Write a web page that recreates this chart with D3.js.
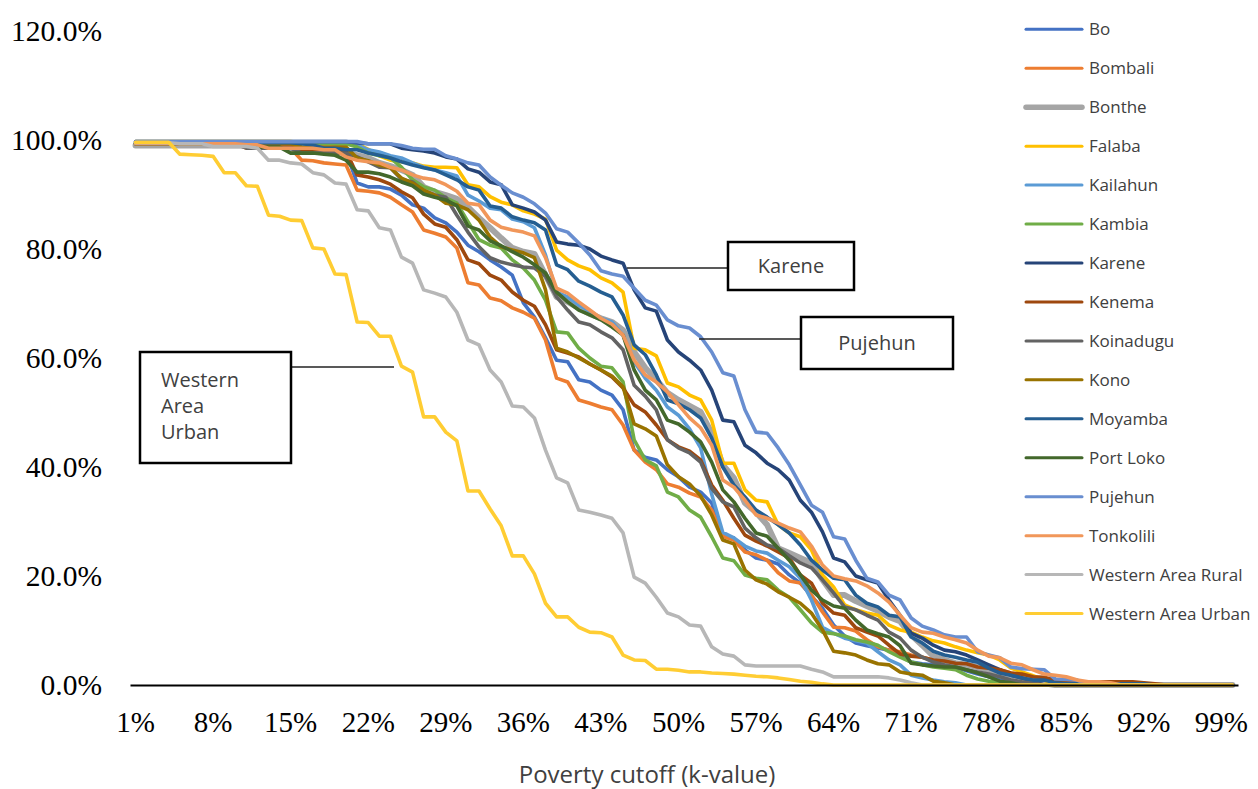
<!DOCTYPE html>
<html><head><meta charset="utf-8">
<script src="https://cdn.jsdelivr.net/npm/d3@7"></script>
<style>body{margin:0;background:#fff}svg{display:block}</style>
</head><body>
<svg id="chart" width="1258" height="789"></svg>
<script>
const kValues = d3.range(1, 101);
const xTickValues = [1, 8, 15, 22, 29, 36, 43, 50, 57, 64, 71, 78, 85, 92, 99];
const yTickValues = [0, 0.2, 0.4, 0.6, 0.8, 1.0, 1.2];

const seriesNames = ["Bo","Bombali","Bonthe","Falaba","Kailahun","Kambia","Karene","Kenema","Koinadugu","Kono","Moyamba","Port Loko","Pujehun","Tonkolili","Western Area Rural","Western Area Urban"];
const seriesColors = ["#4472C4","#ED7D31","#A5A5A5","#FFC000","#5B9BD5","#70AD47","#264478","#9E480E","#636363","#997300","#255E91","#43682B","#698ED0","#F1975A","#B7B7B7","#FFCD33"];

const bo = [99.3,99.3,99.3,99.3,99.3,99.3,99.3,99.3,99.3,99.3,
98.7,98.7,98.7,98.7,98.7,98.2,98.2,98.2,98.0,97.8,
92.1,91.4,91.4,91.0,89.9,88.1,87.5,85.7,84.8,83.1,
80.7,79.5,78.0,76.7,75.2,70.1,67.5,63.7,59.6,59.3,
56.0,55.6,54.1,53.2,50.5,43.1,41.8,41.3,39.5,38.2,
36.3,35.4,33.4,27.2,27.0,24.8,23.3,22.9,22.2,20.2,
18.7,16.3,14.1,11.0,9.0,7.7,7.2,6.8,6.4,5.3,
4.2,3.9,3.7,3.5,3.3,2.6,2.0,1.5,0.9,0.6,
0.4,0,0,0,0,0,0,0,0,0,
0,0,0,0,0,0,0,0,0,0];
const bombali = [99.3,99.3,99.3,99.3,99.3,99.3,99.3,99.3,99.3,99.3,
98.5,98.5,98.5,98.5,98.5,96.3,96.2,95.8,95.6,95.4,
90.8,90.6,90.3,89.5,88.1,86.8,83.5,82.9,82.2,80.2,
73.8,73.4,71.0,70.5,69.2,68.4,67.3,63.3,56.3,55.6,
52.3,51.7,51.0,50.5,47.7,43.1,40.9,39.5,36.9,36.3,
35.2,34.5,32.1,27.3,26.6,24.4,23.9,22.9,20.6,19.1,
18.7,16.5,13.4,10.6,10.5,9.9,8.3,7.0,6.4,6.1,
5.5,5.1,4.6,4.4,4.0,3.7,3.3,2.9,2.8,2.2,
1.8,1.5,1.1,0.9,0.6,0.4,0.2,0,0,0,
0,0,0,0,0,0,0,0,0,0];
const bonthe = [99.0,99.0,99.0,99.0,99.0,99.0,99.0,99.0,99.0,99.0,
99.0,99.0,98.8,98.8,98.5,98.2,98.2,98.0,97.8,97.6,
97.2,96.7,95.8,95.2,94.5,93.6,91.4,90.5,89.9,89.2,
87.7,85.7,83.9,82.0,80.2,79.5,79.1,75.2,71.2,70.3,
69.2,68.1,67.3,66.6,65.1,61.1,58.2,56.0,53.6,52.3,
51.2,50.1,46.2,40.4,38.0,33.4,31.7,29.4,25.1,24.2,
23.3,22.4,19.3,16.5,16.5,15.4,14.5,13.6,12.5,11.7,
9.2,7.3,5.3,4.6,4.0,3.7,3.3,2.8,2.2,1.7,
1.1,0.6,0.3,0,0,0,0,0,0,0,
0,0,0,0,0,0,0,0,0,0];
const falaba = [99.7,99.7,99.7,99.7,99.7,99.7,99.7,99.7,99.7,99.7,
99.7,99.7,99.7,99.7,99.7,99.5,99.5,99.5,99.5,99.5,
99.3,98.3,97.1,96.3,96.0,95.8,95.2,95.0,95.0,94.9,
91.8,91.4,89.6,88.6,88.1,87.0,86.4,85.5,79.8,78.0,
76.9,76.2,74.7,73.8,72.1,61.8,61.5,60.4,55.4,54.7,
53.2,52.3,48.6,40.7,40.7,35.8,33.9,33.6,29.4,27.9,
27.2,24.8,20.2,18.0,14.7,13.8,13.2,12.8,11.0,10.1,
9.7,8.8,8.1,7.7,7.0,6.4,5.9,5.5,4.6,3.1,
2.4,1.7,0.9,0,0,0,0,0,0,0,
0,0,0,0,0,0,0,0,0,0];
const kailahun = [99.5,99.5,99.5,99.5,99.5,99.5,99.5,99.5,99.5,99.5,
99.5,99.5,99.5,99.5,99.5,99.5,99.5,99.5,99.3,99.3,
99.1,98.2,97.8,97.1,96.7,95.8,95.0,94.5,94.0,93.4,
89.9,88.8,87.5,87.2,85.5,85.0,83.9,78.9,72.1,71.2,
69.7,68.6,67.3,66.6,64.2,59.3,56.3,54.1,51.0,49.5,
47.0,43.5,35.0,28.0,27.0,25.5,24.6,24.2,22.9,21.7,
19.6,15.6,10.6,9.5,8.6,8.1,7.7,6.1,4.6,3.7,
1.8,1.3,0.9,0.6,0.4,0,0,0,0,0,
0,0,0,0,0,0,0,0,0,0,
0,0,0,0,0,0,0,0,0,0];
const kambia = [99.5,99.5,99.5,99.5,99.5,99.5,99.5,99.5,99.5,99.5,
99.5,99.5,99.5,99.5,99.5,99.5,99.3,99.3,99.3,99.3,
98.7,97.6,97.1,96.7,95.0,92.7,91.4,90.8,89.4,88.4,
85.0,81.7,80.7,80.2,78.0,76.5,74.3,70.6,64.8,64.6,
61.8,60.0,58.5,58.2,55.6,45.0,41.3,40.2,35.4,34.5,
32.1,30.8,27.2,23.3,22.8,20.2,19.6,19.3,17.4,16.1,
13.8,11.4,9.7,9.4,9.0,8.3,7.9,7.3,6.1,5.1,
4.2,3.7,3.3,3.1,2.8,1.8,1.1,0.7,0.4,0,
0,0,0,0,0,0,0,0,0,0,
0,0,0,0,0,0,0,0,0,0];
const karene = [99.7,99.7,99.7,99.7,99.7,99.7,99.7,99.7,99.7,99.7,
99.7,99.7,99.7,99.7,99.7,99.7,99.7,99.7,99.7,99.7,
99.5,99.3,99.3,99.3,98.5,98.2,98.0,97.6,96.9,96.5,
94.7,94.1,92.3,91.8,88.1,87.5,86.8,85.3,81.3,80.9,
80.7,80.0,78.7,78.0,77.4,72.5,69.2,68.6,63.3,61.1,
59.6,57.8,54.1,48.6,48.3,44.0,42.6,40.7,39.5,37.6,
33.9,31.7,28.1,23.3,22.6,20.0,19.3,18.7,15.6,12.8,
9.5,8.6,7.3,6.4,6.1,5.5,4.6,3.7,2.8,1.8,
1.3,0.6,0,0,0,0,0,0,0,0,
0,0,0,0,0,0,0,0,0,0];
const kenema = [99.3,99.3,99.3,99.3,99.3,99.3,99.3,99.3,99.3,99.3,
98.7,98.7,98.7,98.7,98.7,98.2,98.2,98.2,98.2,98.0,
93.6,93.2,92.7,91.9,90.5,89.4,86.4,84.6,84.0,81.7,
78.0,77.3,75.2,74.3,72.1,70.6,69.5,66.1,61.5,60.9,
60.2,58.9,57.8,56.5,54.5,51.4,50.1,47.7,45.0,43.7,
42.9,41.3,36.7,33.9,30.6,27.5,26.4,25.5,24.4,23.3,
20.2,18.7,15.0,13.2,12.8,10.5,9.7,9.0,7.3,5.7,
5.3,5.1,4.6,4.4,4.0,3.9,3.3,3.1,2.8,2.2,
2.0,1.5,1.4,0.9,0.6,0.6,0.6,0.6,0.6,0.6,
0.6,0.4,0.2,0,0,0,0,0,0,0];
const koinadugu = [99.3,99.3,99.3,99.3,99.3,99.3,99.3,99.3,99.3,99.3,
98.5,98.5,98.5,98.5,98.5,97.6,97.6,97.6,97.6,97.6,
96.9,96.0,95.0,94.9,92.8,92.3,90.6,89.9,89.5,86.2,
83.1,80.4,78.4,77.6,77.1,76.7,76.5,75.0,71.2,68.8,
66.6,66.1,64.8,63.7,61.5,55.0,53.0,50.5,45.0,43.5,
42.6,40.9,36.1,33.6,32.7,28.8,27.0,25.7,25.1,23.7,
22.4,21.5,19.3,16.9,14.3,13.8,12.8,11.9,9.7,8.6,
6.4,5.1,4.2,3.7,3.3,2.8,2.4,2.0,1.5,0.9,
0.6,0.4,0,0,0,0,0,0,0,0,
0,0,0,0,0,0,0,0,0,0];
const kono = [99.3,99.3,99.3,99.3,99.3,99.3,99.3,99.3,99.3,99.3,
99.3,99.3,99.3,99.3,99.3,98.7,98.7,98.7,98.7,98.7,
96.7,96.2,95.4,94.9,93.0,92.1,90.8,89.9,88.4,88.1,
87.2,85.3,82.2,80.4,79.8,79.3,78.4,72.5,61.8,61.1,
60.0,58.9,57.8,56.7,54.7,47.9,47.0,45.7,40.4,38.2,
36.9,34.7,31.2,26.6,25.9,21.1,19.3,18.5,17.1,16.1,
15.0,13.2,10.1,6.2,5.9,5.5,4.6,3.9,3.7,2.4,
2.0,1.8,0.7,0.4,0,0,0,0,0,0,
0,0,0,0,0,0,0,0,0,0,
0,0,0,0,0,0,0,0,0,0];
const moyamba = [99.5,99.5,99.5,99.5,99.5,99.5,99.5,99.5,99.5,99.5,
99.5,99.5,99.5,99.5,99.5,99.3,99.1,98.5,98.5,98.2,
98.2,97.6,97.2,96.7,96.0,95.4,94.9,94.5,93.6,92.7,
91.4,90.8,87.9,87.5,85.9,85.3,84.8,83.5,77.1,76.2,
74.1,73.2,72.1,71.2,67.9,62.4,60.6,56.9,52.3,51.6,
50.5,49.0,45.3,40.0,36.7,34.5,32.1,30.8,29.4,27.9,
25.7,22.9,21.1,19.6,19.3,16.5,15.0,14.3,12.8,12.5,
8.8,7.7,6.2,5.5,5.1,4.6,4.2,3.1,2.2,1.8,
1.3,0.9,0.9,0.4,0.2,0.2,0.2,0.2,0.2,0.2,
0.2,0.2,0,0,0,0,0,0,0,0];
const portLoko = [99.3,99.3,99.3,99.3,99.3,99.3,99.3,99.3,99.3,99.3,
98.9,98.7,98.7,98.7,97.6,97.6,97.6,97.4,97.2,96.3,
94.1,94.1,93.8,93.2,92.3,91.6,90.1,89.5,89.0,87.9,
84.2,83.5,81.5,80.6,79.5,78.5,77.1,75.6,72.1,70.3,
68.8,67.9,67.0,65.7,64.2,57.8,54.1,52.3,48.6,47.9,
46.4,44.6,40.9,35.8,33.6,30.6,27.9,27.3,25.1,22.9,
20.2,17.4,15.6,14.5,14.1,11.9,10.1,9.4,8.8,7.2,
4.0,3.7,3.5,3.3,3.3,2.8,2.2,1.5,0.7,0.4,
0,0,0,0,0,0,0,0,0,0,
0,0,0,0,0,0,0,0,0,0];
const pujehun = [99.7,99.7,99.7,99.7,99.7,99.7,99.7,99.7,99.7,99.7,
99.7,99.7,99.7,99.7,99.7,99.7,99.7,99.7,99.7,99.7,
99.7,99.3,99.3,99.3,99.0,98.5,98.3,98.3,97.1,96.5,
95.8,95.4,93.2,91.7,90.3,89.5,88.3,86.6,83.7,83.1,
81.1,78.9,76.0,75.4,75.0,72.8,70.6,69.7,67.0,65.9,
65.5,63.9,61.1,57.3,56.7,50.5,46.4,46.2,43.5,40.4,
36.7,33.0,31.7,27.2,26.8,22.9,19.6,18.9,16.5,15.6,
12.3,10.8,10.1,9.2,8.8,8.8,6.1,5.5,5.0,3.3,
3.0,2.9,2.8,1.1,1.0,0.9,0,0,0,0,
0,0,0,0,0,0,0,0,0,0];
const tonkolili = [99.3,99.3,99.3,99.3,99.3,99.3,99.3,99.3,99.3,99.3,
99.1,99.1,98.5,98.5,98.5,98.5,98.5,98.2,98.2,96.9,
96.3,96.0,95.8,95.0,94.5,93.6,93.0,92.7,91.8,90.6,
88.4,88.1,85.3,84.0,83.5,83.1,82.4,78.4,72.8,71.9,
70.3,68.8,67.3,66.2,64.2,59.6,56.9,55.6,53.8,51.4,
49.0,47.2,44.0,37.6,36.3,33.9,31.2,30.6,29.7,28.8,
28.1,25.5,22.0,20.0,19.5,19.1,18.2,16.9,15.2,12.8,
10.5,9.7,9.5,8.8,8.3,7.7,6.4,5.3,5.0,4.0,
3.7,2.8,2.0,1.8,1.5,0.9,0.6,0.6,0.4,0,
0,0,0,0,0,0,0,0,0,0];
const westernRural = [99.5,99.5,99.5,99.5,99.3,99.3,99.3,98.8,98.8,98.8,
98.8,98.5,96.3,96.3,95.8,95.6,94.0,93.6,92.1,91.9,
87.2,87.0,83.9,83.5,78.5,77.4,72.5,71.9,71.2,68.4,
63.3,62.4,57.8,55.6,51.2,51.0,49.0,43.1,38.0,37.1,
32.1,31.7,31.2,30.6,27.9,19.8,18.7,16.1,13.2,12.5,
11.0,10.8,7.0,5.7,5.3,3.7,3.5,3.5,3.5,3.5,
3.5,2.9,2.4,1.5,1.5,1.5,1.5,1.5,1.3,0.9,
0.4,0,0,0,0,0,0,0,0,0,
0,0,0,0,0,0,0,0,0,0,
0,0,0,0,0,0,0,0,0,0];
const westernUrban = [99.6,99.6,99.6,99.6,97.4,97.3,97.2,97.0,94.0,94.0,
91.6,91.5,86.2,86.0,85.3,85.2,80.2,80.0,75.4,75.3,
66.6,66.5,64.0,64.0,58.5,57.4,49.2,49.2,46.4,44.8,
35.6,35.6,32.3,29.2,23.7,23.7,20.4,15.0,12.5,12.5,
10.6,9.7,9.6,8.8,5.5,4.6,4.5,2.9,2.9,2.7,
2.4,2.4,2.2,2.1,2.0,1.8,1.6,1.5,1.3,1.0,
0.7,0.5,0.2,0,0,0,0,0,0,0,
0,0,0,0,0,0,0,0,0,0,
0,0,0,0,0,0,0,0,0,0,
0,0,0,0,0,0,0,0,0,0];

const seriesValues = [bo,bombali,bonthe,falaba,kailahun,kambia,karene,kenema,koinadugu,kono,moyamba,portLoko,pujehun,tonkolili,westernRural,westernUrban];

const annotations = [
  {lines:["Karene"], box:[728,242,126,48], anchor:"middle", line:[627,268,728,268]},
  {lines:["Pujehun"], box:[801,317,152,52], anchor:"middle", line:[699,339,801,339]},
  {lines:["Western","Area","Urban"], box:[140,352,151,111], anchor:"start", line:[291,367,394,367]}
];

const svg = d3.select("#chart");
svg.append("rect").attr("width",1258).attr("height",789).attr("fill","#fff");

const x = d3.scaleBand().domain(kValues).range([130, 1238]).padding(0);
const bw = x.bandwidth();
const y = d3.scaleLinear().domain([0, 1.2]).range([685, 31]);

const serif = "'Liberation Serif','Times New Roman',serif";
const sans = "'Open Sans','Noto Sans',sans-serif";

// Y axis labels
const yAxis = svg.append("g").attr("transform","translate(110,0)")
  .call(d3.axisLeft(y).tickValues(yTickValues).tickFormat(d3.format(".1%")).tickSize(0).tickPadding(8));
yAxis.select(".domain").remove();
yAxis.selectAll("text").attr("font-family",serif).attr("font-size",29.5).attr("fill","#000");

// lines
const line = d3.line().x((d,i)=>x(kValues[i])+bw/2).y(d=>y(d/100));
const g = svg.append("g");
seriesValues.forEach((vals,i)=>{
  g.append("path").datum(vals).attr("d",line).attr("fill","none")
    .attr("stroke",seriesColors[i]).attr("stroke-width", i===2?6:3.6)
    .attr("stroke-linejoin","round").attr("stroke-linecap","round");
});

// X axis
const xAxis = svg.append("g").attr("transform","translate(0,685)")
  .call(d3.axisBottom(x).tickValues(xTickValues).tickFormat(d=>d+"%").tickSize(0).tickSizeOuter(0).tickPadding(26));
xAxis.select(".domain").attr("stroke","#000").attr("stroke-width",2);
xAxis.selectAll("text").attr("font-family",serif).attr("font-size",29).attr("fill","#000");

// axis title
svg.append("text").attr("x",647).attr("y",783).attr("text-anchor","middle")
  .attr("font-family",sans).attr("font-size",24).attr("fill","#404040").text("Poverty cutoff (k-value)");

// legend
const leg = svg.append("g");
seriesNames.forEach((n,i)=>{
  const yy = 29.3 + i*38.95;
  leg.append("line").attr("x1",1026).attr("x2",1082).attr("y1",yy).attr("y2",yy)
    .attr("stroke",seriesColors[i]).attr("stroke-width", i===2?5.5:3).attr("stroke-linecap","round");
  leg.append("text").attr("x",1089).attr("y",yy).attr("dy","0.35em")
    .attr("font-family",sans).attr("font-size",17).attr("fill","#404040").text(n);
});

// annotations
annotations.forEach(a=>{
  svg.append("line").attr("x1",a.line[0]).attr("y1",a.line[1]).attr("x2",a.line[2]).attr("y2",a.line[3])
    .attr("stroke","#222").attr("stroke-width",1.5);
  svg.append("rect").attr("x",a.box[0]).attr("y",a.box[1]).attr("width",a.box[2]).attr("height",a.box[3])
    .attr("fill","#fff").attr("stroke","#000").attr("stroke-width",2.5);
  const t = svg.append("text").attr("font-family",sans).attr("font-size",20).attr("fill","#404040");
  if (a.anchor === "middle") {
    t.attr("x",a.box[0]+a.box[2]/2).attr("y",a.box[1]+a.box[3]/2).attr("dy","0.35em").attr("text-anchor","middle").text(a.lines[0]);
  } else {
    a.lines.forEach((l,j)=>{
      t.append("tspan").attr("x",a.box[0]+21).attr("y",a.box[1]+35+j*26).text(l);
    });
  }
});
</script>
</body></html>
